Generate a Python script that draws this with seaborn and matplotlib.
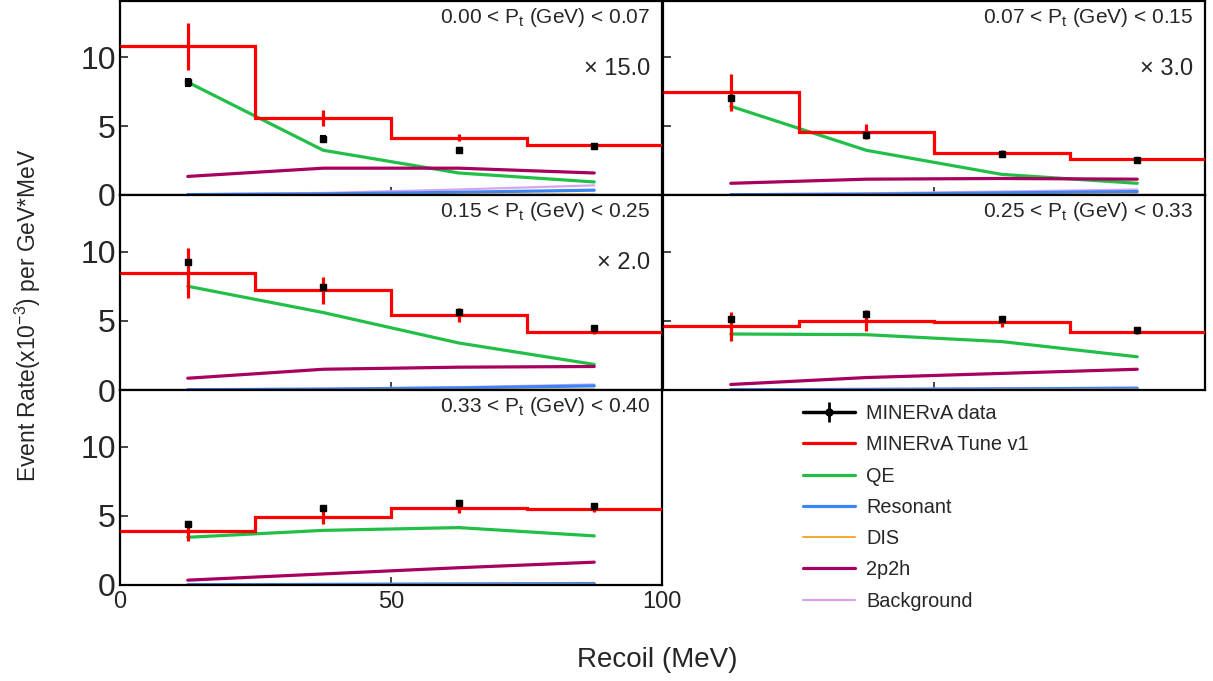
import numpy as np
import pandas as pd
import matplotlib
matplotlib.use('Agg')
import matplotlib.pyplot as plt
from matplotlib.lines import Line2D
import seaborn as sns

# bins de recoil (MeV)
edges = [0, 25, 50, 75, 100]
centers = [12.5, 37.5, 62.5, 87.5]

pt_labels = ['0.00 < P$_{\\rm t}$ (GeV) < 0.07', '0.07 < P$_{\\rm t}$ (GeV) < 0.15',
             '0.15 < P$_{\\rm t}$ (GeV) < 0.25', '0.25 < P$_{\\rm t}$ (GeV) < 0.33',
             '0.33 < P$_{\\rm t}$ (GeV) < 0.40']
scales = ['× 15.0', '× 3.0', '× 2.0', '', '']

mc_tune = [[10.8, 5.6, 4.15, 3.6], [7.45, 4.6, 3.05, 2.6], [8.45, 7.2, 5.45, 4.2],
           [4.6, 5.0, 4.9, 4.2], [3.9, 4.95, 5.6, 5.5]]
mc_err = [[1.7, 0.6, 0.25, 0.1], [1.35, 0.55, 0.2, 0.08], [1.8, 1.0, 0.5, 0.15],
          [1.05, 0.75, 0.35, 0.12], [0.75, 0.55, 0.4, 0.2]]
data_vals = [[8.2, 4.1, 3.25, 3.55], [7.05, 4.35, 3.0, 2.55], [9.25, 7.45, 5.65, 4.45],
             [5.1, 5.5, 5.15, 4.35], [4.4, 5.55, 5.95, 5.7]]
data_err = [[0.25, 0.2, 0.15, 0.15], [0.15, 0.15, 0.1, 0.1], [0.15, 0.15, 0.1, 0.1],
            [0.12, 0.12, 0.1, 0.1], [0.12, 0.12, 0.1, 0.1]]
qe = [[8.2, 3.25, 1.6, 0.95], [6.45, 3.25, 1.5, 0.85], [7.5, 5.6, 3.4, 1.85],
      [4.05, 4.0, 3.5, 2.4], [3.45, 3.95, 4.15, 3.55]]
twop2h = [[1.35, 1.95, 1.95, 1.6], [0.85, 1.15, 1.2, 1.15], [0.85, 1.5, 1.65, 1.7],
          [0.4, 0.9, 1.2, 1.5], [0.35, 0.8, 1.25, 1.65]]
resonant = [[0.03, 0.08, 0.2, 0.35], [0.02, 0.06, 0.15, 0.25], [0.02, 0.06, 0.15, 0.3],
            [0.02, 0.04, 0.08, 0.12], [0.02, 0.04, 0.07, 0.1]]
dis = [[0.0, 0.01, 0.03, 0.05], [0.0, 0.01, 0.02, 0.04], [0.0, 0.01, 0.02, 0.04],
       [0.0, 0.01, 0.02, 0.03], [0.0, 0.01, 0.02, 0.03]]
background = [[0.05, 0.15, 0.4, 0.7], [0.05, 0.12, 0.25, 0.4], [0.04, 0.1, 0.2, 0.4],
              [0.04, 0.08, 0.12, 0.18], [0.04, 0.07, 0.1, 0.15]]

c_red = '#ff0000'
c_qe = '#22bf48'
c_res = '#3a86f5'
c_dis = '#f7a833'
c_2p2h = '#a8005e'
c_bkg = '#d6a4f2'

sns.set_theme(style='ticks')
plt.rcParams['font.family'] = ['Liberation Sans', 'DejaVu Sans']
plt.rcParams['mathtext.fontset'] = 'custom'
plt.rcParams['mathtext.rm'] = 'Liberation Sans'

fig = plt.figure(figsize=(12.13, 6.81), dpi=100)

W, H = 1213, 681
col_x = [120, 663]
col_w = 542
row_top = [1, 195, 390]
row_h = 195
positions = [(0, 0), (1, 0), (0, 1), (1, 1), (0, 2)]

for i, (c, r) in enumerate(positions):
    x0 = col_x[c] / W
    y0 = 1 - (row_top[r] + (row_h - (1 if r == 0 else 0))) / H
    h = (row_h - (1 if r == 0 else 0)) / H
    ax = fig.add_axes([x0, y0, col_w / W, h])

    df = pd.DataFrame({'recoil': centers, 'QE': qe[i], 'Resonant': resonant[i],
                       'DIS': dis[i], '2p2h': twop2h[i], 'Background': background[i]})

    ax.stairs(mc_tune[i], edges, color=c_red, lw=2.3, baseline=None, zorder=3)
    ax.errorbar(centers, mc_tune[i], yerr=mc_err[i], fmt='none', ecolor=c_red,
                elinewidth=2.3, zorder=3)
    sns.lineplot(data=df, x='recoil', y='QE', ax=ax, color=c_qe, lw=2.3, zorder=2)
    sns.lineplot(data=df, x='recoil', y='2p2h', ax=ax, color=c_2p2h, lw=2.3, zorder=2)
    sns.lineplot(data=df, x='recoil', y='Background', ax=ax, color=c_bkg, lw=1.6, zorder=2)
    sns.lineplot(data=df, x='recoil', y='Resonant', ax=ax, color=c_res, lw=2.3, zorder=2)
    sns.lineplot(data=df, x='recoil', y='DIS', ax=ax, color=c_dis, lw=1.4, zorder=2)
    ax.errorbar(centers, data_vals[i], yerr=data_err[i], fmt='s', color='black',
                ms=4.5, elinewidth=1.5, capsize=2, capthick=1.5, zorder=4)

    ax.set_xlim(0, 100)
    ax.set_ylim(0, 14.1)
    ax.set_xlabel('')
    ax.set_ylabel('')
    ax.set_xticks([0, 50, 100])
    ax.set_yticks([0, 5, 10])
    ax.tick_params(direction='in', length=6, width=1.2)
    if c == 0:
        ax.tick_params(axis='y', labelsize=23, pad=3)
    else:
        ax.set_yticklabels([])
    if i == 4:
        ax.tick_params(axis='x', labelsize=17, pad=4)
    else:
        ax.set_xticklabels([])
    for sp in ax.spines.values():
        sp.set_linewidth(1.6)
        sp.set_color('black')

    ax.text(0.978, 0.975, pt_labels[i], transform=ax.transAxes, ha='right', va='top',
            fontsize=15)
    if scales[i]:
        ax.text(0.978, 0.65, scales[i], transform=ax.transAxes, ha='right', va='center',
                fontsize=17)

fig.text(28 / W, 1 - 315 / H, 'Event Rate(x10$^{-3}$) per GeV*MeV', rotation=90,
         ha='center', va='center', fontsize=16.5)
fig.text(657 / W, 1 - 660 / H, 'Recoil (MeV)', ha='center', va='center', fontsize=20)

# leyenda
data_handle = (Line2D([], [], color='black', lw=2.5),
               Line2D([], [], color='black', marker='o', ms=5, ls=''),
               Line2D([], [], color='black', marker='|', ms=15, mew=2, ls=''))
handles = [data_handle,
           Line2D([], [], color=c_red, lw=2.3),
           Line2D([], [], color=c_qe, lw=2.3),
           Line2D([], [], color=c_res, lw=2.3),
           Line2D([], [], color=c_dis, lw=1.4),
           Line2D([], [], color=c_2p2h, lw=2.3),
           Line2D([], [], color=c_bkg, lw=1.6)]
labels = ['MINERvA data', 'MINERvA Tune v1', 'QE', 'Resonant', 'DIS', '2p2h', 'Background']
fig.legend(handles, labels, loc='upper left', bbox_to_anchor=(785 / W, 1 - 386 / H),
           frameon=False, fontsize=14.3, handlelength=2.6, handletextpad=0.6,
           labelspacing=0.62)

fig.savefig('out.png', dpi=100)
